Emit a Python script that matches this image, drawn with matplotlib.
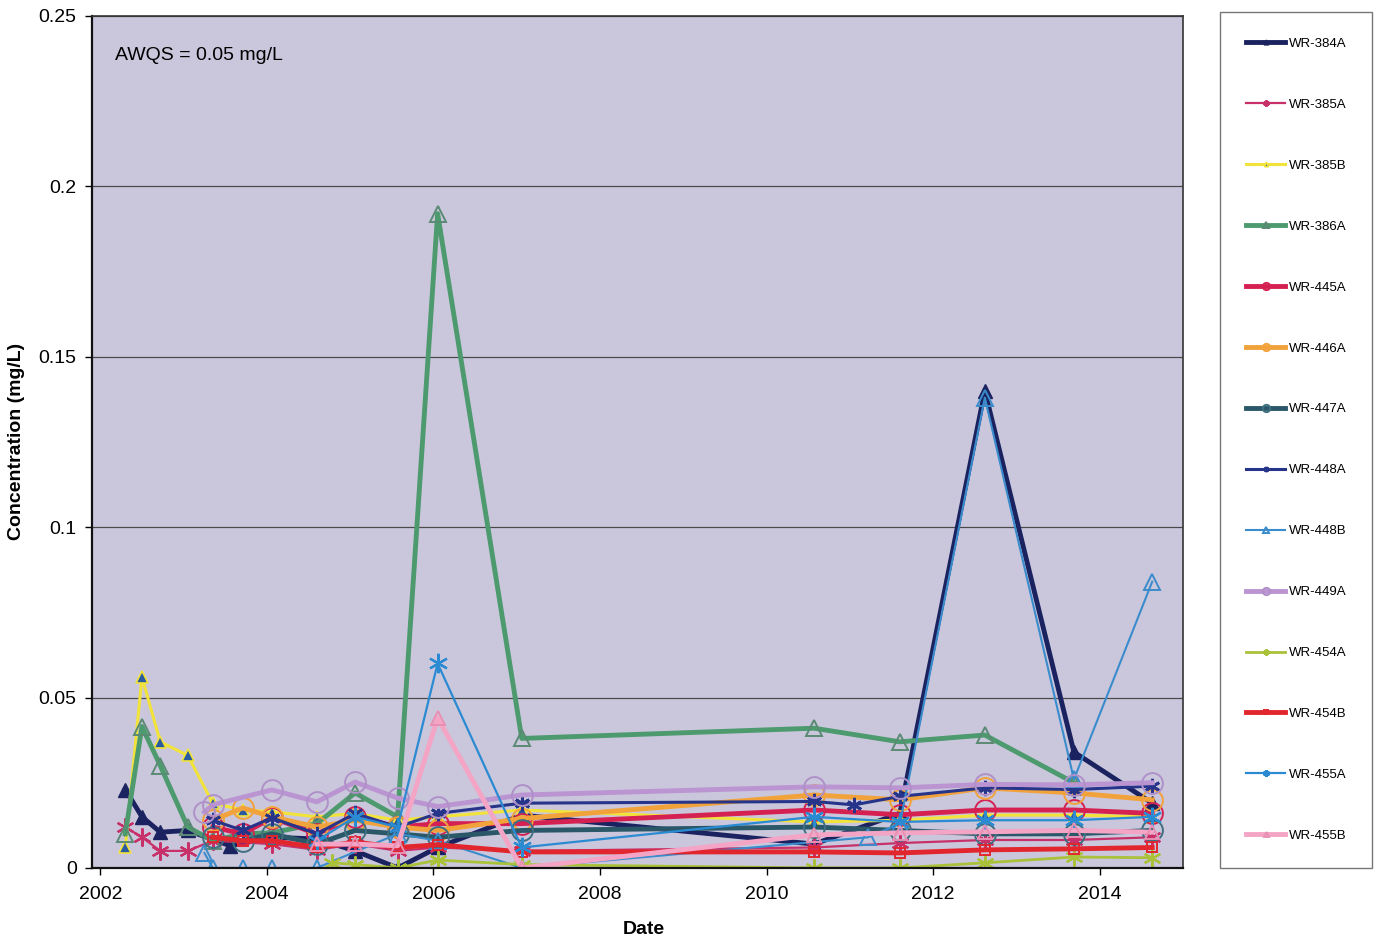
import numpy as np
import matplotlib.pyplot as plt

plt.rcParams['font.family'] = ['Liberation Sans', 'DejaVu Sans']

n = np.nan

# sampling dates as decimal years
dates = [2002.30, 2002.50, 2002.72, 2003.05, 2003.25, 2003.35, 2003.56, 2003.71,
         2004.06, 2004.60, 2004.78, 2005.06, 2005.57, 2006.05, 2007.06, 2010.57,
         2011.05, 2011.22, 2011.60, 2012.62, 2013.69, 2014.63]

# concentrations in mg/L, nan where a well was not sampled
wr_384a = [0.023, 0.015, 0.0105, 0.011, n, n, 0.0065, n, 0.009, 0.0085, n, 0.005,
           0.0, 0.006, 0.0155, 0.007, n, n, 0.016, 0.140, 0.034, 0.019]
wr_385a = [0.012, 0.009, 0.005, 0.005, n, 0.008, n, n, 0.007, 0.0053, n, 0.007,
           0.005, 0.006, 0.005, 0.006, n, n, 0.0073, 0.0082, 0.0082, 0.009]
wr_385b = [0.006, 0.056, 0.037, 0.033, n, 0.019, n, 0.017, 0.0165, 0.015, n, 0.016,
           0.014, 0.015, 0.017, 0.0135, n, n, 0.014, 0.0155, 0.0155, 0.015]
wr_386a = [0.010, 0.0415, 0.030, 0.012, n, 0.008, n, 0.010, 0.0103, 0.013, n, 0.022,
           0.015, 0.192, 0.038, 0.041, n, n, 0.037, 0.039, 0.025, n]
wr_445a = [n, n, n, n, n, 0.012, n, 0.010, 0.0147, 0.010, n, 0.015, 0.012, 0.013,
           0.013, 0.017, n, n, 0.0156, 0.017, 0.017, 0.016]
wr_446a = [n, n, n, n, n, 0.014, n, 0.0176, 0.015, 0.012, n, 0.014, 0.012, 0.011,
           0.0145, 0.0214, n, n, 0.020, 0.0235, 0.022, 0.020]
wr_447a = [n, n, n, n, n, 0.009, n, 0.008, 0.010, 0.007, n, 0.011, 0.010, 0.009,
           0.011, 0.012, n, n, 0.011, 0.010, 0.010, 0.011]
wr_448a = [n, n, n, n, n, 0.014, n, 0.011, 0.0147, 0.010, n, 0.016, 0.012, 0.016,
           0.019, 0.0195, 0.0185, n, 0.021, 0.0235, 0.023, 0.024]
wr_448b = [n, n, n, n, 0.0044, 0.0, n, 0.0, 0.0, 0.0, n, n, 0.010, 0.008, 0.0,
           n, n, 0.009, 0.013, 0.138, 0.026, 0.084]
wr_449a = [n, n, n, n, 0.0164, 0.0185, n, n, 0.0229, 0.0194, n, 0.0252, 0.0205,
           0.018, 0.0214, 0.0238, n, n, 0.0235, 0.0245, 0.0244, 0.025]
wr_454a = [n, n, n, n, n, n, n, n, n, n, 0.0015, 0.001, 0.0, 0.0023, 0.001, 0.0,
           n, n, 0.0, 0.0015, 0.0032, 0.003]
wr_454b = [n, n, n, n, n, 0.009, n, 0.008, 0.008, 0.006, n, 0.0076, 0.006, 0.0068,
           0.0047, 0.0047, n, n, 0.0044, 0.0053, 0.0056, 0.006]
wr_455a = [n, n, n, n, n, n, n, n, n, 0.008, n, 0.015, 0.012, 0.060, 0.006, 0.015,
           n, n, 0.0135, 0.014, 0.014, 0.015]
wr_455b = [n, n, n, n, n, n, n, n, n, 0.007, n, 0.007, 0.0065, 0.044, 0.0, 0.0097,
           n, n, 0.0103, 0.0106, 0.011, 0.0105]

asterisk = (6, 2, 0)

series = [
    ('WR-384A', wr_384a, dict(color='#1b2260', lw=3.5, marker='^', ms=10, mfc='#1b2260', mec='#1b2260')),
    ('WR-385A', wr_385a, dict(color='#c8306a', lw=1.6, marker=asterisk, ms=13, mew=1.6, mec='#c8306a')),
    ('WR-385B', wr_385b, dict(color='#f2e33a', lw=2.2, marker='^', ms=9, mfc='#2a5aa0', mec='#f2e33a', mew=1.2)),
    ('WR-386A', wr_386a, dict(color='#4d9a6e', lw=3.5, marker='^', ms=12, mfc='none', mec='#5a8a74', mew=1.4)),
    ('WR-445A', wr_445a, dict(color='#d42152', lw=3.5, marker='o', ms=15, mfc='none', mec='#d42152', mew=1.4)),
    ('WR-446A', wr_446a, dict(color='#f2a23a', lw=3.5, marker='o', ms=15, mfc='none', mec='#f2a23a', mew=1.4)),
    ('WR-447A', wr_447a, dict(color='#2a5868', lw=3.5, marker='o', ms=15, mfc='none', mec='#3f6f80', mew=1.4)),
    ('WR-448A', wr_448a, dict(color='#26348a', lw=2.2, marker=asterisk, ms=11, mew=2.0, mec='#26348a')),
    ('WR-448B', wr_448b, dict(color='#3a8ccc', lw=1.5, marker='^', ms=11, mfc='none', mec='#3a8ccc', mew=1.4)),
    ('WR-449A', wr_449a, dict(color='#bb94d2', lw=3.5, marker='o', ms=15, mfc='none', mec='#b090c8', mew=1.4)),
    ('WR-454A', wr_454a, dict(color='#a9c23a', lw=2.0, marker=asterisk, ms=13, mew=1.6, mec='#a9c23a')),
    ('WR-454B', wr_454b, dict(color='#e2262e', lw=3.5, marker='s', ms=7, mfc='none', mec='#e2262e', mew=1.4)),
    ('WR-455A', wr_455a, dict(color='#2a8ad2', lw=1.6, marker=asterisk, ms=14, mew=1.6, mec='#2a8ad2')),
    ('WR-455B', wr_455b, dict(color='#f4a4c4', lw=3.5, marker='^', ms=10, mfc='none', mec='#e890b4', mew=1.4)),
]

fig = plt.figure(figsize=(13.79, 9.43), dpi=100)
ax = fig.add_axes([0.0667, 0.0796, 0.7912, 0.9035])
ax.set_facecolor('#cac7dc')

x = np.array(dates)
for label, vals, style in series:
    y = np.array(vals, dtype=float)
    ok = ~np.isnan(y)
    ax.plot(x[ok], y[ok], label=label, **style)

ax.set_xlim(2001.9, 2015.0)
ax.set_ylim(0, 0.25)
ax.set_xticks([2002, 2004, 2006, 2008, 2010, 2012, 2014])
ax.set_yticks([0, 0.05, 0.1, 0.15, 0.2, 0.25])
ax.set_yticklabels(['0', '0.05', '0.1', '0.15', '0.2', '0.25'])
ax.tick_params(axis='both', direction='out', length=5, width=1, labelsize=14)
ax.tick_params(axis='x', pad=8)
ax.tick_params(axis='y', pad=6)

ax.set_axisbelow(True)
ax.yaxis.grid(True, color='#4a4a4a', lw=0.9)
for side in ['left', 'bottom']:
    ax.spines[side].set_linewidth(1.6)
    ax.spines[side].set_color('#111111')
for side in ['top', 'right']:
    ax.spines[side].set_linewidth(1.2)
    ax.spines[side].set_color('#333333')

ax.set_xlabel('Date', fontsize=14, fontweight='bold')
ax.xaxis.set_label_coords(0.506, -0.062)
ax.set_ylabel('Concentration (mg/L)', fontsize=14, fontweight='bold')
ax.yaxis.set_label_coords(-0.061, 0.5)

ax.text(0.021, 0.954, 'AWQS = 0.05 mg/L', transform=ax.transAxes,
        fontsize=14, va='center', ha='left')

handles, labels = ax.get_legend_handles_labels()
leg = fig.legend(handles, labels, loc='upper left',
                 bbox_to_anchor=(1220 / 1379, 0.0796, 152 / 1379, 0.9077),
                 mode='expand', borderaxespad=0, fontsize=9.5,
                 labelspacing=3.69, borderpad=1.95, handlelength=3.0,
                 handletextpad=0.3, markerscale=0.35, fancybox=False,
                 framealpha=1, edgecolor='#777777')
leg.get_frame().set_linewidth(1.0)

fig.savefig('out.png', dpi=100)
